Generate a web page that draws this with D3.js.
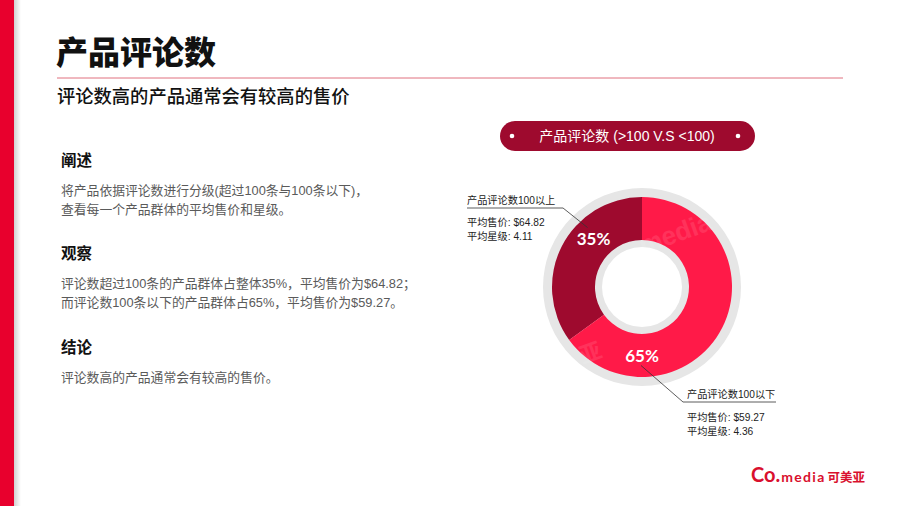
<!DOCTYPE html>
<html>
<head>
<meta charset="utf-8">
<script src="https://cdn.jsdelivr.net/npm/d3@7/dist/d3.min.js"></script>
<style>
  html, body { margin: 0; padding: 0; background: #fff; }
  svg { display: block; font-family: "Liberation Sans", "Noto Sans CJK SC", sans-serif; }
</style>
</head>
<body>
<svg id="chart" width="900" height="506"></svg>
<script>
// ---------- data ----------
const title = "产品评论数";
const subtitle = "评论数高的产品通常会有较高的售价";
const chartTitle = "产品评论数 (>100 V.S <100)";
const categories = ["产品评论数100以上", "产品评论数100以下"];
const shares = [35, 65];
const avgPrice = [64.82, 59.27];
const avgRating = [4.11, 4.36];
const sectionHeads = ["阐述", "观察", "结论"];
const sectionBodies = [
  ["将产品依据评论数进行分级(超过100条与100条以下)，", "查看每一个产品群体的平均售价和星级。"],
  ["评论数超过100条的产品群体占整体35%，平均售价为$64.82；", "而评论数100条以下的产品群体占65%，平均售价为$59.27。"],
  ["评论数高的产品通常会有较高的售价。"]
];

// ---------- layout ----------
const W = 900, H = 506;
const colors = ["#9E0A2E", "#FF1A48"];
const cjk = "'Noto Sans CJK SC', sans-serif";
const svg = d3.select("#chart");

// left red bar with soft shadow
const defs = svg.append("defs");
const grad = defs.append("linearGradient").attr("id", "shadow").attr("x1", 0).attr("x2", 1);
grad.append("stop").attr("offset", 0).attr("stop-color", "#000").attr("stop-opacity", 0.18);
grad.append("stop").attr("offset", 1).attr("stop-color", "#000").attr("stop-opacity", 0);
svg.append("rect").attr("x", 14).attr("y", 0).attr("width", 7).attr("height", H).attr("fill", "url(#shadow)");
svg.append("rect").attr("x", 0).attr("y", 0).attr("width", 14).attr("height", H).attr("fill", "#E8002D");

// title
svg.append("text").attr("x", 56).attr("y", 64).text(title).attr("font-family", cjk)
  .attr("font-size", 32).attr("font-weight", 900).attr("fill", "#111");
svg.append("line").attr("x1", 57).attr("x2", 843).attr("y1", 78).attr("y2", 78)
  .attr("stroke", "#E0707E").attr("stroke-width", 1);
svg.append("text").attr("x", 57).attr("y", 103).text(subtitle).attr("font-family", cjk)
  .attr("font-size", 18.3).attr("font-weight", 500).attr("fill", "#111");

// left sections
const headY = [160, 253, 347];
sectionHeads.forEach((h, i) => {
  svg.append("text").attr("x", 61).attr("y", headY[i] + 6).text(h).attr("font-family", cjk)
    .attr("font-size", 15.5).attr("font-weight", 700).attr("fill", "#111");
  sectionBodies[i].forEach((line, j) => {
    svg.append("text").attr("x", 61).attr("y", headY[i] + 35 + j * 19).text(line)
      .attr("font-size", 12.8).attr("fill", "#5a5a5a");
  });
});

// pill header
const pill = svg.append("g").attr("transform", "translate(627,136)");
pill.append("rect").attr("x", -127).attr("y", -15).attr("width", 255).attr("height", 30)
  .attr("rx", 15).attr("fill", "#9E0A2E");
pill.append("text").attr("text-anchor", "middle").attr("dy", "0.36em").text(chartTitle)
  .attr("font-size", 14).attr("fill", "#fff");
[-115, 111].forEach(x => pill.append("circle").attr("cx", x).attr("cy", 0).attr("r", 2.3).attr("fill", "#fff"));

// donut
const cx = 642, cy = 287;
const rOuterRing = 99, rInnerRing = 40, rOuter = 90, rInner = 47;
const g = svg.append("g").attr("transform", `translate(${cx},${cy})`);
g.append("path").attr("fill", "#E6E6E6")
  .attr("d", d3.arc()({innerRadius: rInnerRing, outerRadius: rOuterRing, startAngle: 0, endAngle: 2 * Math.PI}));

const total = d3.sum(shares);
const pie = d3.pie().sort(null).value(d => d)
  .startAngle(-2 * Math.PI * shares[0] / total)
  .endAngle(2 * Math.PI - 2 * Math.PI * shares[0] / total);
const arcs = pie(shares);
const arc = d3.arc().innerRadius(rInner).outerRadius(rOuter);
g.selectAll("path.slice").data(arcs).enter().append("path")
  .attr("class", "slice").attr("d", arc).attr("fill", (d, i) => colors[i]);

// faint watermarks
g.append("text").attr("x", 12).attr("y", -30).attr("transform", "rotate(-20)")
  .text("media").attr("font-size", 26).attr("font-weight", 700).attr("fill", "#fff").attr("opacity", 0.1);
g.append("text").attr("x", -82).attr("y", 52).attr("transform", "rotate(-20)").attr("font-family", cjk)
  .text("亚").attr("font-size", 22).attr("font-weight", 700).attr("fill", "#fff").attr("opacity", 0.1);

// percent labels (placed at chosen angles along the ring middle)
const labelAngleDeg = [-45, 180];
const rLabel = (rInner + rOuter) / 2;
const labelPos = labelAngleDeg.map(a => {
  const t = a * Math.PI / 180;
  return [rLabel * Math.sin(t), -rLabel * Math.cos(t)];
});
arcs.forEach((d, i) => {
  g.append("text").attr("x", labelPos[i][0]).attr("y", labelPos[i][1]).attr("dy", "0.36em")
    .attr("text-anchor", "middle").text(shares[i] + "%")
    .attr("font-family", "Lato, 'Open Sans', sans-serif")
    .attr("font-size", 17).attr("font-weight", 700).attr("fill", "#fff");
});

// callouts
const lineColor = "#333";
const up = { start: [labelPos[0][0] - 6, labelPos[0][1] - 11], elbow: [563 - cx, 208 - cy], end: [467 - cx, 208 - cy] };
g.append("polyline").attr("points", [up.start, up.elbow, up.end].map(p => p.join(",")).join(" "))
  .attr("fill", "none").attr("stroke", lineColor).attr("stroke-width", 0.8);
const upText = svg.append("g").attr("font-size", 10.2).attr("fill", "#222");
upText.append("text").attr("x", 467).attr("y", 204).text(categories[0]);
upText.append("text").attr("x", 467).attr("y", 226).text(`平均售价: $${avgPrice[0].toFixed(2)}`);
upText.append("text").attr("x", 467).attr("y", 239.5).text(`平均星级: ${avgRating[0].toFixed(2)}`);

const lo = { start: [labelPos[1][0] - 1, labelPos[1][1] + 10], elbow: [683 - cx, 402 - cy], end: [776 - cx, 402 - cy] };
g.append("polyline").attr("points", [lo.start, lo.elbow, lo.end].map(p => p.join(",")).join(" "))
  .attr("fill", "none").attr("stroke", lineColor).attr("stroke-width", 0.8);
const loText = svg.append("g").attr("font-size", 10.2).attr("fill", "#222");
loText.append("text").attr("x", 687).attr("y", 398).text(categories[1]);
loText.append("text").attr("x", 687).attr("y", 421).text(`平均售价: $${avgPrice[1].toFixed(2)}`);
loText.append("text").attr("x", 687).attr("y", 434.5).text(`平均星级: ${avgRating[1].toFixed(2)}`);

// logo
const logo = svg.append("text").attr("x", 751).attr("y", 482).attr("fill", "#D9102E").attr("font-weight", 700);
logo.append("tspan").text("Co.").attr("font-family", "Lato, sans-serif").attr("font-size", 20);
logo.append("tspan").text("media").attr("font-family", "Lato, sans-serif").attr("font-size", 14).attr("letter-spacing", 1.3).attr("dx", 1);
logo.append("tspan").text("可美亚").attr("font-family", cjk).attr("font-size", 12.5).attr("dx", 2);
</script>
</body>
</html>
